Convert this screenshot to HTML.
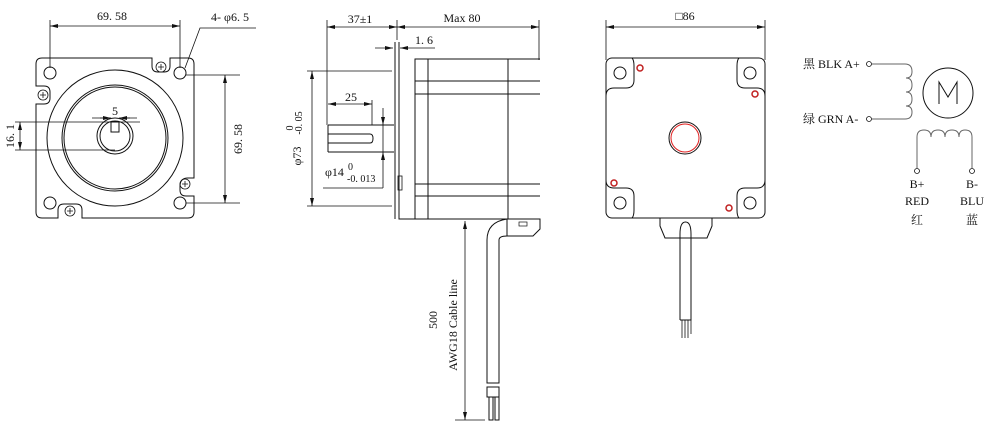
<!DOCTYPE html>
<html><head><meta charset="utf-8"><style>
html,body{margin:0;padding:0;background:#fff;}
svg{display:block;}
text{font-family:"Liberation Serif","Noto Serif CJK SC",serif;fill:#111;}
</style></head><body>
<svg width="985" height="431" viewBox="0 0 985 431" xmlns="http://www.w3.org/2000/svg">
<defs>
<marker id="a" markerWidth="8" markerHeight="6" refX="8" refY="3" orient="auto-start-reverse" markerUnits="userSpaceOnUse"><path d="M0,1 L8,3 L0,5 Z" fill="#111"/></marker>
</defs>
<g fill="none" stroke="#111" stroke-width="1">
<!-- FRONT VIEW -->
<path d="M42,58 H152 V66 Q152,72 158,72 H164 Q170,72 170,66 V58 H188 Q194,58 194,64 V178 H188 Q180,178 180,186 V190 Q180,196 186,196 H194 V212 Q194,218 188,218 H82 V210 Q82,204 76,204 H64 Q58,204 58,210 V218 H42 Q36,218 36,212 V104 H44 Q50,104 50,98 V92 Q50,86 44,86 H36 V64 Q36,58 42,58 Z"/>
<circle cx="50" cy="73" r="6"/><circle cx="180" cy="73" r="6"/><circle cx="50" cy="203" r="6"/><circle cx="180" cy="203" r="6"/>
<circle cx="115" cy="138" r="68"/>
<circle cx="115" cy="138" r="53"/><circle cx="115" cy="138" r="51"/>
<circle cx="115" cy="136" r="18"/><circle cx="115" cy="136" r="15"/>
<rect x="111" y="122" width="8" height="10" fill="#fff"/>
<g stroke-width="0.8">
<circle cx="43" cy="95" r="5"/><path d="M40,95h6M43,92v6"/>
<circle cx="161" cy="67" r="5"/><path d="M158,67h6M161,64v6"/>
<circle cx="185" cy="184" r="5"/><path d="M182,184h6M185,181v6"/>
<circle cx="70" cy="211" r="5"/><path d="M67,211h6M70,208v6"/>
</g>
<g stroke-width="0.8">
<path d="M50,20V68M180,20V68"/>
<path d="M50,26H180" marker-start="url(#a)" marker-end="url(#a)"/>
<path d="M185,68L200,28H256"/>
<path d="M186,75H240M186,203H240"/>
<path d="M225,75V203" marker-start="url(#a)" marker-end="url(#a)"/>
<path d="M15,122H140M15,150H115"/>
<path d="M20,122V150" marker-start="url(#a)" marker-end="url(#a)"/>
<path d="M92,118H110M120,118H137"/>
<path d="M100,118H111" marker-end="url(#a)"/><path d="M130,118H119" marker-end="url(#a)"/>
</g>

<!-- SIDE VIEW -->
<path d="M395,42V219" stroke="#888" stroke-width="2"/>
<path d="M399,42V219H540"/>
<path d="M540,59H415V219M415,81H540M415,94H540M415,184H540M415,196H540M428,59V219M508,59V219" />
<path d="M328,125H394M328,152H394M328,125V152M328,134H370Q373,134 373,138.5Q373,143 370,143H328"/>
<rect x="398" y="176" width="4" height="14" stroke-width="0.8"/>
<g stroke-width="0.8">
<path d="M327,20V125M397,20V40M539,20V60"/>
<path d="M327,27H397" marker-start="url(#a)" marker-end="url(#a)"/>
<path d="M397,27H539" marker-start="url(#a)" marker-end="url(#a)"/>
<path d="M375,48H393" marker-end="url(#a)"/><path d="M435,48H400" marker-end="url(#a)"/>
<path d="M307,71H392M307,206H392"/>
<path d="M312,71V206" marker-start="url(#a)" marker-end="url(#a)"/>
<path d="M372,100V125"/>
<path d="M328,104H372" marker-start="url(#a)" marker-end="url(#a)"/>
<path d="M383,108V125" marker-end="url(#a)"/><path d="M383,188V152" marker-end="url(#a)"/>
<path d="M323,188H383M383,125V152"/>
</g>
<path d="M507,219H540V229L533,236H507Z"/>
<rect x="519" y="222" width="8" height="4" stroke-width="0.7"/>
<path d="M507,219Q487,222 487,240V383H499V240Q499,236 507,236"/>
<rect x="487" y="387" width="12" height="10"/>
<path d="M489,397V420H493V397M495,397V420H499V397"/>
<path d="M465,221V420" stroke-width="0.8" marker-start="url(#a)" marker-end="url(#a)"/>
<path d="M455,420H485" stroke-width="0.8"/>

<!-- BACK VIEW -->
<g stroke-width="0.8">
<path d="M606,20V60M765,20V60"/>
<path d="M606,27H765" marker-start="url(#a)" marker-end="url(#a)"/>
</g>
<rect x="606" y="58" width="159" height="160" rx="6"/>
<path d="M632,58Q634,60 634,66V80Q634,88 626,88H614Q606,88 606,96"/>
<path d="M739,58Q737,60 737,66V80Q737,88 745,88H757Q765,88 765,96"/>
<path d="M632,218Q634,216 634,210V196Q634,188 626,188H614Q606,188 606,180"/>
<path d="M739,218Q737,216 737,210V196Q737,188 745,188H757Q765,188 765,180"/>
<circle cx="620" cy="73" r="6"/><circle cx="750" cy="73" r="6"/><circle cx="620" cy="203" r="6"/><circle cx="750" cy="203" r="6"/>
<circle cx="685" cy="138" r="16"/>
<circle cx="685" cy="138" r="14" stroke="#e02020"/>
<g stroke="#c02020" stroke-width="1.5"><circle cx="640" cy="68" r="3"/><circle cx="755" cy="94" r="3"/><circle cx="614" cy="183" r="3"/><circle cx="729" cy="208" r="3"/></g>
<path d="M660,218V226L665,238H707L712,226V218"/>
<path d="M680,320V234Q680,222 685.5,222Q691,222 691,234V320H680"/>
<path d="M682,320V338M685,320V338M688,320V338M691,320V334" stroke-width="0.8"/>

<!-- WIRING -->
<g stroke="#666">
<path d="M872,64H905Q912,64 912,71.5Q912,78 906,78Q912,78 912,85Q912,92 906,92Q912,92 912,99Q912,106 906,106Q912,106 912,112Q912,119 905,119H872"/>
<path d="M917,168V137Q917,130 924,130Q931,130 931,137Q931,130 938,130Q945,130 945,137Q945,130 952,130Q959,130 959,137Q959,130 965,130Q972,130 972,137V168"/>
</g>
<circle cx="948" cy="93" r="25"/>
<g stroke-width="0.8"><circle cx="869" cy="64" r="2.5"/><circle cx="869" cy="119" r="2.5"/><circle cx="917" cy="171" r="2.5"/><circle cx="972" cy="171" r="2.5"/></g>
<path d="M939,104V82L948,97L957,82V104" stroke-width="1"/>
</g>

<g font-size="12">
<text x="112" y="20" text-anchor="middle">69. 58</text>
<text x="230" y="21" text-anchor="middle">4- φ6. 5</text>
<text x="115" y="115" text-anchor="middle">5</text>
<text transform="translate(242,139) rotate(-90)" text-anchor="middle">69. 58</text>
<text transform="translate(14,136) rotate(-90)" text-anchor="middle">16. 1</text>
<text x="360" y="23" text-anchor="middle">37±1</text>
<text x="462" y="22" text-anchor="middle">Max 80</text>
<text x="415" y="44">1. 6</text>
<text x="351" y="101" text-anchor="middle">25</text>
<text transform="translate(301,156) rotate(-90)" text-anchor="middle">φ73</text>
<text transform="translate(293,128) rotate(-90)" text-anchor="middle" font-size="10">0</text>
<text transform="translate(302,123) rotate(-90)" text-anchor="middle" font-size="10">-0. 05</text>
<text x="325" y="176">φ14</text>
<text x="348" y="170" font-size="10">0</text>
<text x="347" y="182" font-size="10">-0. 013</text>
<text transform="translate(437,320) rotate(-90)" text-anchor="middle">500</text>
<text transform="translate(457,325) rotate(-90)" text-anchor="middle">AWG18 Cable line</text>
<text x="685" y="20" text-anchor="middle">□86</text>
<text x="803" y="68">黑 BLK A+</text>
<text x="803" y="123">绿 GRN A-</text>
<text x="917" y="188" text-anchor="middle">B+</text>
<text x="917" y="205" text-anchor="middle">RED</text>
<text x="917" y="224" text-anchor="middle">红</text>
<text x="972" y="188" text-anchor="middle">B-</text>
<text x="972" y="205" text-anchor="middle">BLU</text>
<text x="972" y="224" text-anchor="middle">蓝</text>
</g>
</svg>
</body></html>
